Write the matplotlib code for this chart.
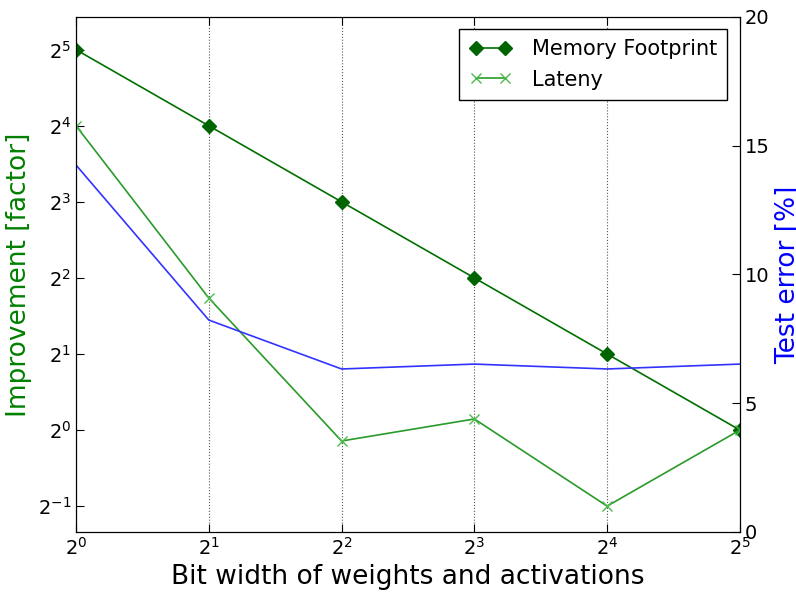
import matplotlib
matplotlib.use("Agg")
import matplotlib.pyplot as plt
from matplotlib.ticker import LogFormatterMathtext, FixedLocator

plt.rcParams["axes.unicode_minus"] = False

# data
bits = [1, 2, 4, 8, 16, 32]
memory = [32, 16, 8, 4, 2, 1]
latency = [16, 3.33, 0.905, 1.106, 0.5, 1.0]
test_error = [14.25, 8.23, 6.33, 6.52, 6.33, 6.52]

fig = plt.figure(figsize=(7.96, 5.92), dpi=100)
ax = fig.add_axes([0.0955, 0.1014, 0.834, 0.8699])

ax.plot(bits, memory, color="#007000", marker="D", markersize=7,
        markerfacecolor="#006400", markeredgecolor="#006400", lw=1.2,
        label="Memory Footprint")
ax.plot(bits, latency, color="#2a9a2a", marker="x", markersize=7,
        markeredgecolor="#4cbb4c", lw=1.2, label="Lateny")

ax.set_xscale("log", base=2)
ax.set_yscale("log", base=2)
ax.set_xlim(1, 32)
ax.set_ylim(2 ** -1.34, 2 ** 5.43)
ax.xaxis.set_major_locator(FixedLocator(bits))
ax.xaxis.set_major_formatter(LogFormatterMathtext(base=2))
ax.xaxis.set_minor_locator(FixedLocator([]))
ax.yaxis.set_major_locator(FixedLocator([0.5, 1, 2, 4, 8, 16, 32]))
ax.yaxis.set_major_formatter(LogFormatterMathtext(base=2))
ax.yaxis.set_minor_locator(FixedLocator([]))
ax.grid(axis="x", color="#555555", linestyle=":", lw=0.8)
ax.tick_params(direction="in", labelsize=14, length=6, top=True)
ax.tick_params(axis="y", right=False)
ax.set_xlabel("Bit width of weights and activations", fontsize=19)
ax.set_ylabel("Improvement [factor]", fontsize=19, color="green")

ax2 = ax.twinx()
ax2.plot(bits, test_error, color="#3333ff", lw=1.2)
ax2.set_ylim(0, 20)
ax2.set_yticks([0, 5, 10, 15, 20])
ax2.tick_params(direction="in", labelsize=14, length=6)
ax2.set_ylabel("Test error [%]", fontsize=19, color="blue")

leg = ax.legend(loc="upper right", fontsize=15, fancybox=False,
                edgecolor="black", framealpha=1, numpoints=2,
                handlelength=2.0, handletextpad=1.0, borderpad=0.5,
                labelspacing=0.5, bbox_to_anchor=(0.997, 0.997))
leg.get_frame().set_linewidth(1.0)

fig.savefig("out.png", dpi=100)
